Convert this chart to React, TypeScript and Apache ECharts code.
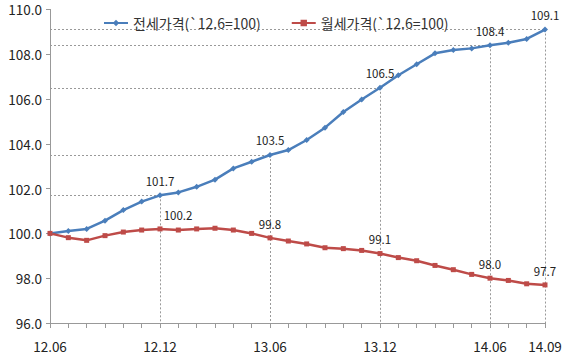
import React, { useEffect, useRef } from "react";
import * as echarts from "echarts";

const categories = [
  "12.06", "12.07", "12.08", "12.09", "12.10", "12.11", "12.12",
  "13.01", "13.02", "13.03", "13.04", "13.05", "13.06",
  "13.07", "13.08", "13.09", "13.10", "13.11", "13.12",
  "14.01", "14.02", "14.03", "14.04", "14.05", "14.06",
  "14.07", "14.08", "14.09",
];

const jeonse = [
  100.0, 100.11, 100.2, 100.57, 101.04, 101.42, 101.7,
  101.83, 102.08, 102.4, 102.9, 103.2, 103.5,
  103.72, 104.17, 104.72, 105.42, 105.98, 106.5,
  107.06, 107.55, 108.04, 108.19, 108.26, 108.4,
  108.51, 108.68, 109.1,
];

const wolse = [
  100.0, 99.81, 99.69, 99.9, 100.06, 100.15, 100.2,
  100.15, 100.2, 100.23, 100.15, 100.0, 99.8,
  99.66, 99.53, 99.36, 99.32, 99.24, 99.1,
  98.92, 98.78, 98.57, 98.38, 98.17, 98.0,
  97.9, 97.75, 97.7,
];

const labelIdx = [6, 12, 18, 24, 27];
const tickLabelIdx = [0, 6, 12, 18, 24, 27];

const seriesNames = ["전세가격(`12.6=100)", "월세가격(`12.6=100)"];

const BLUE = "#4A7EBB";
const RED = "#BE4B48";
const FONT = "'Noto Sans CJK KR', 'Noto Sans', sans-serif";

export default function App() {
  const ref = useRef<HTMLDivElement>(null);

  useEffect(() => {
    document.body.style.margin = "0";
    if (!ref.current) return;
    const chart = echarts.init(ref.current, null, { renderer: "svg" });

    const mkData = (arr: number[], offsets: Record<number, number[]>) =>
      arr.map((v, i) =>
        labelIdx.includes(i)
          ? {
              value: v,
              label: {
                show: true,
                position: "top",
                distance: 6,
                offset: offsets[i] || [0, 0],
                formatter: (p: any) => Number(p.value).toFixed(1),
              },
            }
          : v
      );

    const guideLines: any[] = [];
    labelIdx.forEach((i) => {
      guideLines.push([
        { coord: [categories[0], jeonse[i]] },
        { coord: [categories[i], jeonse[i]] },
      ]);
      guideLines.push([
        { coord: [categories[i], jeonse[i]] },
        { coord: [categories[i], 96] },
      ]);
    });

    chart.setOption({
      animation: false,
      textStyle: { fontFamily: FONT },
      grid: { left: 50, right: 21, top: 9.4, bottom: 41 },
      legend: {
        left: 98,
        top: 11,
        itemWidth: 24,
        itemHeight: 8,
        itemGap: 30,
        textStyle: { fontSize: 14, color: "#333", fontFamily: FONT },
        data: seriesNames,
      },
      xAxis: {
        type: "category",
        data: categories,
        boundaryGap: false,
        axisLine: { lineStyle: { color: "#999", width: 1 } },
        axisTick: { show: true, interval: 0, length: 5, lineStyle: { color: "#999" } },
        axisLabel: {
          interval: (idx: number) => tickLabelIdx.includes(idx),
          fontSize: 13.5,
          color: "#222",
          margin: 16,
          fontFamily: FONT,
        },
        splitLine: { show: false },
      },
      yAxis: {
        type: "value",
        min: 96,
        max: 110,
        interval: 2,
        axisLine: { show: true, lineStyle: { color: "#999", width: 1 } },
        axisTick: { show: true, length: 4, lineStyle: { color: "#999" } },
        axisLabel: {
          formatter: (v: number) => v.toFixed(1),
          fontSize: 13.5,
          color: "#222",
          margin: 8,
          fontFamily: FONT,
        },
        splitLine: { show: false },
      },
      series: [
        {
          name: seriesNames[0],
          type: "line",
          data: mkData(jeonse, {}),
          symbol: "diamond",
          symbolSize: 6,
          itemStyle: { color: BLUE },
          lineStyle: { color: BLUE, width: 2.5 },
          label: { fontSize: 11.5, color: "#222", fontFamily: FONT },
          z: 3,
          markLine: {
            silent: true,
            symbol: "none",
            label: { show: false },
            lineStyle: { color: "#999", type: [2, 2], width: 1 },
            data: guideLines,
            z: 1,
          },
        },
        {
          name: seriesNames[1],
          type: "line",
          data: mkData(wolse, { 6: [18, 0] }),
          symbol: "rect",
          symbolSize: 5,
          itemStyle: { color: RED },
          lineStyle: { color: RED, width: 2.5 },
          label: { fontSize: 11.5, color: "#222", fontFamily: FONT },
          z: 3,
        },
      ],
    });

    return () => chart.dispose();
  }, []);

  return <div ref={ref} style={{ width: 566, height: 364 }} />;
}
